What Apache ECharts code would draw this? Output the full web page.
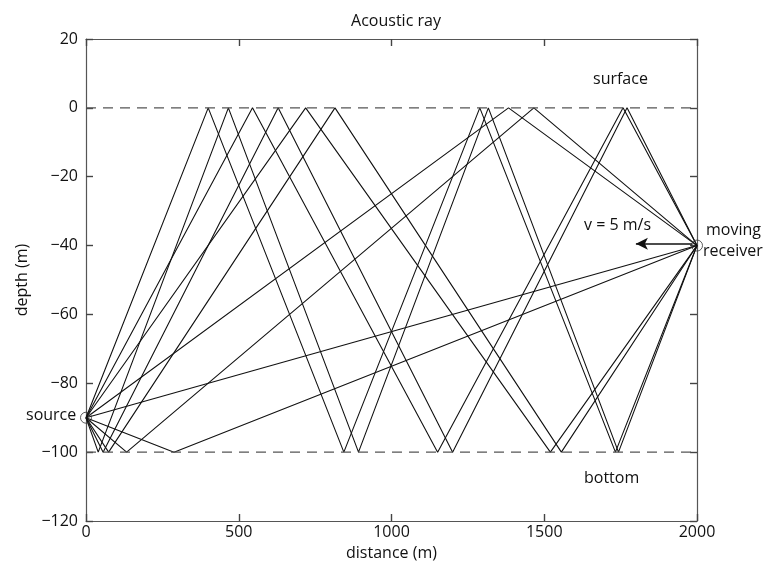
<!DOCTYPE html>
<html>
<head>
<meta charset="utf-8">
<script src="https://cdn.jsdelivr.net/npm/echarts@6/dist/echarts.min.js"></script>
<style>
html, body { margin: 0; padding: 0; background: #fff; }
#main { width: 768px; height: 570px; }
</style>
</head>
<body>
<div id="main"></div>
<script>
// source / receiver positions (distance m, depth m)
var source = [0, -90];
var receiver = [2000, -40];
var surfaceLine = [[0, 0], [2000, 0]];
var bottomLine = [[0, -100], [2000, -100]];

// ray paths, vertices (reflections at 0 and -100)
var ray1 = [[0, -90], [2000, -40]];
var ray2 = [[0, -90], [288, -100], [2000, -40]];
var ray3 = [[0, -90], [1383, 0], [2000, -40]];
var ray4 = [[0, -90], [133, -100], [1466, 0], [2000, -40]];
var ray5 = [[0, -90], [719, 0], [1520, -100], [2000, -40]];
var ray6 = [[0, -90], [74, -100], [815, 0], [1556, -100], [2000, -40]];
var ray7 = [[0, -90], [545, 0], [1151, -100], [1758, 0], [2000, -40]];
var ray8 = [[0, -90], [56, -100], [629, 0], [1200, -100], [1771, 0], [2000, -40]];
var ray9 = [[0, -90], [400, 0], [844, -100], [1289, 0], [1733, -100], [2000, -40]];
var ray10 = [[0, -90], [40, -100], [466, 0], [892, -100], [1317, 0], [1743, -100], [2000, -40]];
var rays = [ray1, ray2, ray3, ray4, ray5, ray6, ray7, ray8, ray9, ray10];

// velocity arrow (receiver moving left)
var arrowFrom = [1985, -39.5];
var arrowTo = [1800, -39.5];

var FONT = '"Open Sans"';
var chart = echarts.init(document.getElementById('main'));

function minus(v) { return String(v).replace('-', '\u2212'); }

var series = [];
rays.forEach(function (r) {
	series.push({
		type: 'line', data: r, symbol: 'none', silent: true,
		lineStyle: { color: '#111', width: 1.1 }
	});
});
series.push({
	type: 'line', data: surfaceLine, symbol: 'none', silent: true,
	lineStyle: { color: '#555', width: 1.3, type: [10, 7] }
});
series.push({
	type: 'line', data: bottomLine, symbol: 'none', silent: true,
	lineStyle: { color: '#555', width: 1.3, type: [10, 7] },
	markLine: {
		silent: true, animation: false,
		symbol: ['none', 'arrow'], symbolSize: [9, 12],
		label: { show: false },
		lineStyle: { color: '#111', width: 1.5, type: 'solid' },
		data: [[{ coord: arrowFrom }, { coord: arrowTo }]]
	}
});
series.push({
	type: 'scatter', data: [source, receiver], symbol: 'circle', symbolSize: 11,
	clip: false, silent: true, z: 5,
	itemStyle: { color: 'rgba(255,255,255,0)', borderColor: '#333', borderWidth: 1 }
});

function axis(extra) {
	return Object.assign({
		axisLine: { show: true, onZero: false, lineStyle: { color: '#555', width: 1.2 } },
		axisTick: { show: true, inside: true, length: 7, lineStyle: { color: '#444', width: 1.4 } },
		splitLine: { show: false }
	}, extra);
}
var labelStyle = { fontFamily: FONT, fontSize: 16, color: '#111' };

chart.setOption({
	animation: false,
	grid: { left: 86, right: 71, top: 39, bottom: 49 },
	title: {
		text: 'Acoustic ray', left: 391, top: 8, textAlign: 'center',
		textStyle: { fontFamily: FONT, fontSize: 16, fontWeight: 'normal', color: '#111' }
	},
	xAxis: [
		axis({
			type: 'value', min: 0, max: 2000, interval: 500, position: 'bottom',
			name: 'distance (m)', nameLocation: 'middle', nameGap: 24,
			nameTextStyle: labelStyle,
			axisLabel: Object.assign({ margin: 3, formatter: function (v) { return String(v); } }, labelStyle)
		}),
		axis({
			type: 'value', min: 0, max: 2000, interval: 500, position: 'top',
			axisLabel: { show: false }
		})
	],
	yAxis: [
		axis({
			type: 'value', min: -120, max: 20, interval: 20, position: 'left',
			name: 'depth (m)', nameLocation: 'middle', nameGap: 52,
			nameTextStyle: labelStyle,
			axisLabel: Object.assign({ margin: 8, formatter: minus }, labelStyle)
		}),
		axis({
			type: 'value', min: -120, max: 20, interval: 20, position: 'right',
			axisLabel: { show: false }
		})
	],
	graphic: [
		{ type: 'text', left: 593, top: 71, style: { text: 'surface', font: '16px ' + FONT, fill: '#111' } },
		{ type: 'text', left: 584, top: 470, style: { text: 'bottom', font: '16px ' + FONT, fill: '#111' } },
		{ type: 'text', left: 26, top: 407, style: { text: 'source', font: '16px ' + FONT, fill: '#111' } },
		{ type: 'text', left: 584, top: 217, style: { text: 'v = 5 m/s', font: '16px ' + FONT, fill: '#111' } },
		{ type: 'text', left: 706, top: 222, style: { text: 'moving', font: '16px ' + FONT, fill: '#111' } },
		{ type: 'text', left: 703, top: 243, style: { text: 'receiver', font: '16px ' + FONT, fill: '#111' } }
	],
	series: series
});
</script>
</body>
</html>
